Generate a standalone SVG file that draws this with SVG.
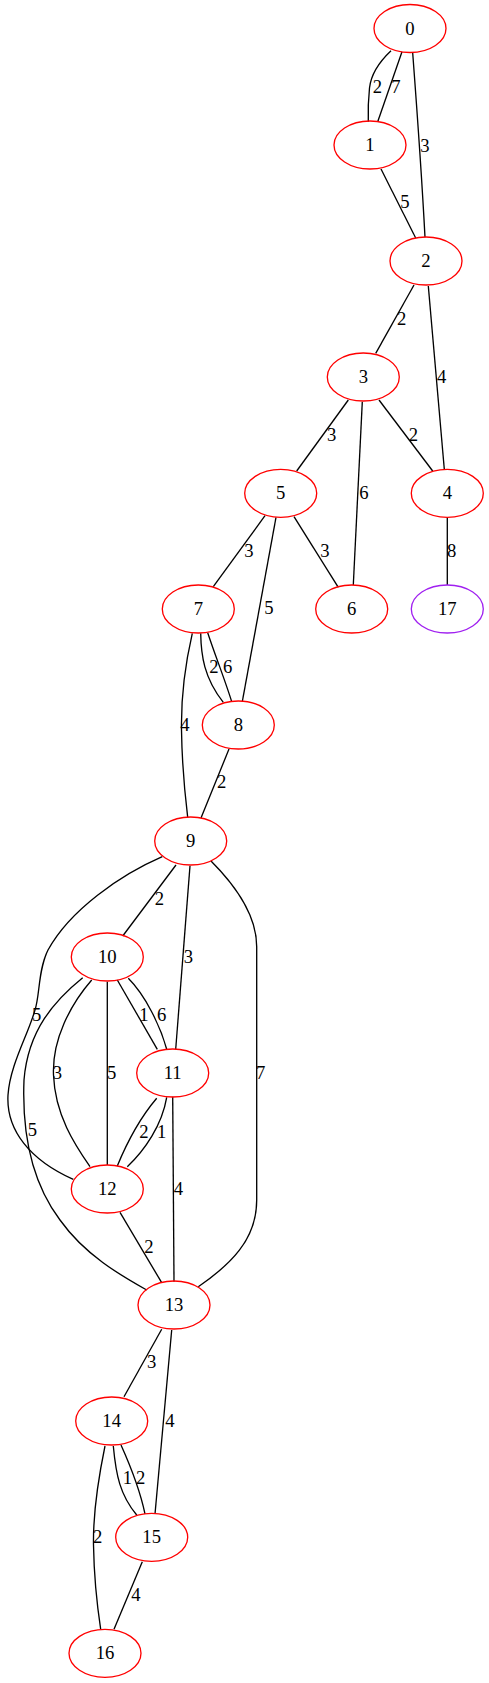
<svg xmlns="http://www.w3.org/2000/svg" width="489" height="1683" viewBox="0 0 489 1683">
<style>
.n ellipse{fill:none;stroke:#ff0000;stroke-width:1.33}
text{font-family:'Liberation Serif','Times New Roman','DejaVu Serif',serif;font-size:18.67px;fill:#000;text-anchor:middle}
.e path{fill:none;stroke:#000;stroke-width:1.33}
#n17 ellipse{stroke:#a020f0}
</style>
<rect width="489" height="1683" fill="#fff"/>
<g id="connectors" class="e">
<path d="M391,50.7 C378,63 371,74 369.5,88 C368,102 368,112 368.3,121.7"/>
<path d="M402,51.7 L377.7,121.7"/>
<path d="M412.7,53 C417,110 422,180 425,237.3"/>
<path d="M381,169 L415.7,238"/>
<path d="M414,285 L375.7,353.3"/>
<path d="M428.3,286 L444.3,469.3"/>
<path d="M348.3,400 L296.7,471"/>
<path d="M362.3,401.7 L353.3,585"/>
<path d="M379,400 L432.7,471"/>
<path d="M265,515.7 L213.3,586.7"/>
<path d="M276,517.3 L242.3,701.7"/>
<path d="M294,516.7 L338.3,587.3"/>
<path d="M447.3,517.3 L447.3,585"/>
<path d="M192.3,633.3 C185,665 181,700 181.5,730 C182,765 185,795 187.7,817.3"/>
<path d="M200.7,633.3 C201,655 204,678 223.3,702.3"/>
<path d="M207.7,632.7 C215,655 225,680 231.7,701.7"/>
<path d="M229,749 L201,818"/>
<path d="M176,865 L122.7,936"/>
<path d="M190,865.7 L175.7,1049.3"/>
<path d="M162.3,856.7 C120,875 70,910 48,950 C38,970 40,995 35,1010 C28,1035 10,1065 8,1095 C6,1130 30,1160 73.3,1179.3"/>
<path d="M211,861 C240,890 256.7,920 256.7,946.7 L256.7,1200 C256.7,1240 230,1265 198.3,1286.7"/>
<path d="M117.3,980 L157.3,1049.3"/>
<path d="M128.3,978.3 C145,995 160,1025 166.7,1049.3"/>
<path d="M91.7,980 C70,1005 52,1040 53.5,1075 C55,1115 75,1145 90,1166.7"/>
<path d="M107.3,981.7 L107.3,1165"/>
<path d="M82.7,977.7 C55,1000 28,1030 24,1080 C22,1130 30,1180 60,1220 C85,1255 120,1275 146.7,1290"/>
<path d="M156.7,1098.3 C140,1118 128,1140 117.3,1166"/>
<path d="M166.7,1097.3 C162,1125 145,1150 127.3,1166.7"/>
<path d="M172.7,1096.7 L174,1281.7"/>
<path d="M120,1212.3 L161.7,1282.7"/>
<path d="M161.7,1329.3 L124,1396.7"/>
<path d="M171.7,1330 L155,1514"/>
<path d="M113.3,1446 C116,1475 120,1495 136.7,1515"/>
<path d="M121,1445 C130,1465 140,1490 145,1514"/>
<path d="M105,1446 C98,1480 93,1515 93.5,1545 C94,1575 97,1605 100.7,1629.3"/>
<path d="M142.3,1561.7 L114,1629.3"/>
</g>
<g id="edge-labels">
<text x="377.3" y="93.3">2</text>
<text x="396" y="93.3">7</text>
<text x="425" y="151.7">3</text>
<text x="405" y="207.7">5</text>
<text x="401.7" y="325.3">2</text>
<text x="441.7" y="382.7">4</text>
<text x="331.7" y="441">3</text>
<text x="364" y="499.3">6</text>
<text x="413.3" y="441">2</text>
<text x="249" y="556.7">3</text>
<text x="269" y="613.7">5</text>
<text x="325" y="556.7">3</text>
<text x="451.7" y="556.7">8</text>
<text x="185" y="731">4</text>
<text x="214" y="673.3">2</text>
<text x="227.7" y="672.7">6</text>
<text x="221.7" y="788.3">2</text>
<text x="159.3" y="905">2</text>
<text x="188.3" y="962.7">3</text>
<text x="36.7" y="1021">5</text>
<text x="260.7" y="1078.7">7</text>
<text x="144" y="1021">1</text>
<text x="161.7" y="1021">6</text>
<text x="57.3" y="1078.7">3</text>
<text x="111.7" y="1078.7">5</text>
<text x="32.3" y="1136">5</text>
<text x="144" y="1137.7">2</text>
<text x="161.7" y="1137.7">1</text>
<text x="178.3" y="1195">4</text>
<text x="149" y="1252.7">2</text>
<text x="151.7" y="1368">3</text>
<text x="170" y="1426.7">4</text>
<text x="127.3" y="1484.3">1</text>
<text x="140.7" y="1484.3">2</text>
<text x="97.7" y="1542.7">2</text>
<text x="136" y="1601">4</text>
</g>
<g id="n0" class="n"><ellipse cx="410" cy="28.5" rx="36" ry="24"/><text x="410" y="34.5">0</text></g>
<g id="n1" class="n"><ellipse cx="370" cy="145" rx="36" ry="24"/><text x="370" y="151">1</text></g>
<g id="n2" class="n"><ellipse cx="426" cy="261" rx="36" ry="24"/><text x="426" y="267">2</text></g>
<g id="n3" class="n"><ellipse cx="363.3" cy="377" rx="36" ry="24"/><text x="363.3" y="383">3</text></g>
<g id="n4" class="n"><ellipse cx="447.3" cy="493.3" rx="36" ry="24"/><text x="447.3" y="499.3">4</text></g>
<g id="n5" class="n"><ellipse cx="280.7" cy="493.3" rx="36" ry="24"/><text x="280.7" y="499.3">5</text></g>
<g id="n6" class="n"><ellipse cx="351.7" cy="609" rx="36" ry="24"/><text x="351.7" y="615">6</text></g>
<g id="n7" class="n"><ellipse cx="198.3" cy="609" rx="36" ry="24"/><text x="198.3" y="615">7</text></g>
<g id="n17" class="n"><ellipse cx="447.3" cy="609" rx="36" ry="24"/><text x="447.3" y="615">17</text></g>
<g id="n8" class="n"><ellipse cx="238.3" cy="725" rx="36" ry="24"/><text x="238.3" y="731">8</text></g>
<g id="n9" class="n"><ellipse cx="190.7" cy="841" rx="36" ry="24"/><text x="190.7" y="847">9</text></g>
<g id="n10" class="n"><ellipse cx="107.3" cy="957" rx="36" ry="24"/><text x="107.3" y="963">10</text></g>
<g id="n11" class="n"><ellipse cx="172.7" cy="1073" rx="36" ry="24"/><text x="172.7" y="1079">11</text></g>
<g id="n12" class="n"><ellipse cx="107.3" cy="1189" rx="36" ry="24"/><text x="107.3" y="1195">12</text></g>
<g id="n13" class="n"><ellipse cx="174" cy="1305" rx="36" ry="24"/><text x="174" y="1311">13</text></g>
<g id="n14" class="n"><ellipse cx="111.7" cy="1421" rx="36" ry="24"/><text x="111.7" y="1427">14</text></g>
<g id="n15" class="n"><ellipse cx="151.7" cy="1537.3" rx="36" ry="24"/><text x="151.7" y="1543.3">15</text></g>
<g id="n16" class="n"><ellipse cx="105" cy="1653.3" rx="36" ry="24"/><text x="105" y="1659.3">16</text></g>
</svg>
